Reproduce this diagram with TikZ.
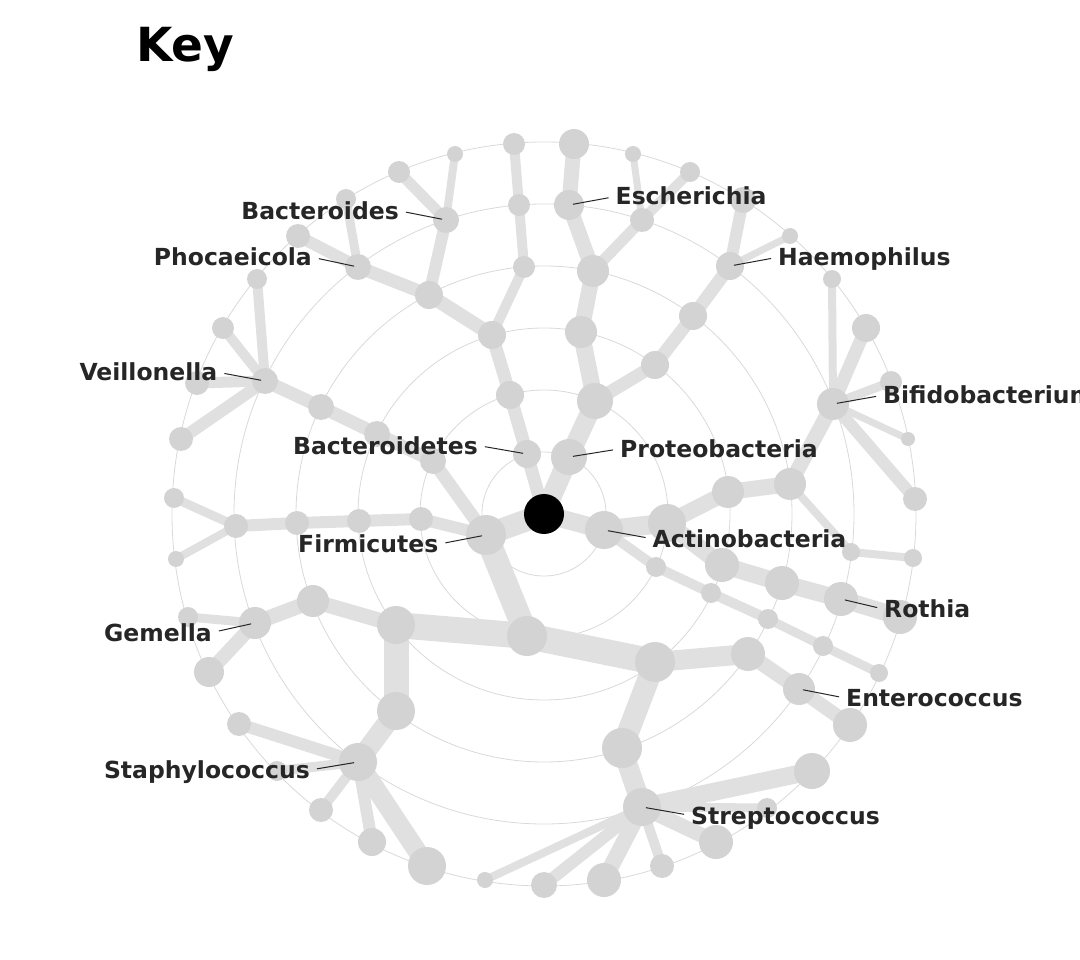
\documentclass[tikz,border=0pt]{standalone}
\usepackage{fontspec}
\setmainfont{DejaVu Sans}
\usetikzlibrary{backgrounds}
\definecolor{taxonfill}{HTML}{D3D3D3}
\definecolor{branchgray}{HTML}{E0E0E0}
\definecolor{ringgray}{HTML}{D9D9D9}
\definecolor{inkgray}{HTML}{262626}
\providecommand*{\ringStep}{}
\renewcommand*{\ringStep}{62}
\tikzset{
  taxon/.style={circle,fill=taxonfill,inner sep=0pt,minimum size=2*#1pt},
  branch/.style={draw=branchgray,line width=#1pt},
  ring/.style={draw=ringgray,line width=0.8pt},
  genus/.style={text=inkgray,font=\bfseries\fontsize{23.5}{28}\selectfont,inner sep=0pt,text height=17pt,text depth=0pt},
  leader/.style={draw=inkgray,line width=1pt,shorten <=7pt,shorten >=4pt},
}
\begin{document}
\begin{tikzpicture}[x=1pt,y=-1pt]
  \useasboundingbox (0,0) rectangle (1080,960);
  \node[font=\bfseries\fontsize{47}{56}\selectfont,anchor=base west,inner sep=0pt] (key) at (136,62) {Key};
  \node[circle,fill=black,inner sep=0pt,minimum size=40pt] (root) at (544,514) {};
  \foreach \name/\x/\y/\r in {bacteroidetes/527/454/14, bact2/510/395/14, bact3/492/335/14,
    bact4a/429/295/14, bact4b/524/267/11, bacteroides/446/220/13, phocaeicola/358/267/13,
    bact5/519/205/11, bact6a/399/172/11, bact6b/455/154/8, bact6c/298/236/12,
    bact6d/346/199/10, bact6e/514/144/11,
    proteobacteria/569/457/18, prot2/595/401/18, prot3a/581/332/16, prot3b/655/365/14,
    prot4a/593/271/16, prot4b/693/316/14, escherichia/569/205/15, prot5/642/220/12,
    haemophilus/730/266/14, prot6a/574/144/15, prot6b/633/154/8, prot6c/690/172/10,
    prot6d/743/200/13, prot6e/790/236/8,
    actinobacteria/604/530/19, act2a/667/523/19, act2b/656/567/10, act3a/728/492/16,
    act3b/722/565/17, act3c/711/593/10, act4a/790/484/16, act4b/782/583/17,
    act4c/768/619/10, bifidobacterium/833/404/16, act5b/851/552/9, rothia/841/599/17,
    act5d/823/646/10, act6a/832/279/9, act6b/866/328/14, act6c/891/382/11,
    act6d/908/439/7, act6e/915/499/12, act6f/913/558/9, act6g/900/617/17, act6h/879/673/9,
    firmicutes/486/535/20, firm2a/433/461/13, firm2b/421/519/12, firm2c/527/636/20,
    firm3a/377/434/13, firm3b/359/521/12, firm3c/396/625/19, firm3d/655/662/20,
    firm4a/321/407/13, firm4b/297/523/12, firm4c/313/601/16, firm4d/396/711/19,
    firm4e/748/654/17, firm4f/622/748/20, veillonella/265/381/13, firm5b/236/526/12,
    gemella/255/623/16, staphylococcus/358/762/19, enterococcus/799/689/16,
    streptococcus/642/807/19, firm6a/257/279/10, firm6b/223/328/11, firm6c/197/383/12,
    firm6d/181/439/12, firm6e/174/498/10, firm6f/176/559/8, firm6g/188/617/10,
    firm6h/209/672/15, firm6i/239/724/12, firm6j/277/771/10, firm6k/321/810/12,
    firm6l/372/842/14, firm6m/427/866/19, firm6n/850/725/17, firm6o/812/771/18,
    firm6p/767/808/10, firm6q/716/842/17, firm6r/662/866/12, firm6s/604/880/17,
    firm6t/544/885/13, firm6u/485/880/8} {
    \node[taxon=\r] (\name) at (\x,\y) {};
  }
  \begin{scope}[on background layer]
    \foreach \i in {1,...,6} {
      \draw[ring] (root.center) circle [radius=\i*\ringStep];
    }
    \foreach \a/\b/\w in {root/bacteroidetes/13, root/proteobacteria/20, root/actinobacteria/18,
      root/firmicutes/22,
      bacteroidetes/bact2/13, bact2/bact3/13, bact3/bact4a/14, bact3/bact4b/10,
      bact4a/bacteroides/12, bact4a/phocaeicola/13, bact4b/bact5/10, bact5/bact6e/10,
      bacteroides/bact6a/11, bacteroides/bact6b/8, phocaeicola/bact6c/12, phocaeicola/bact6d/9,
      proteobacteria/prot2/19, prot2/prot3a/17, prot2/prot3b/13, prot3a/prot4a/16,
      prot4a/escherichia/15, prot4a/prot5/11, escherichia/prot6a/15, prot5/prot6b/7,
      prot5/prot6c/10, prot3b/prot4b/13, prot4b/haemophilus/13, haemophilus/prot6d/12,
      haemophilus/prot6e/7,
      actinobacteria/act2a/19, actinobacteria/act2b/10, act2a/act3a/16, act2a/act3b/17,
      act3a/act4a/16, act4a/bifidobacterium/15, act4a/act5b/8, act5b/act6f/8,
      bifidobacterium/act6a/8, bifidobacterium/act6b/13, bifidobacterium/act6c/9,
      bifidobacterium/act6d/7, bifidobacterium/act6e/12, act3b/act4b/17, act4b/rothia/17,
      rothia/act6g/17, act2b/act3c/10, act3c/act4c/10, act4c/act5d/9, act5d/act6h/9,
      firmicutes/firm2a/13, firmicutes/firm2b/12, firmicutes/firm2c/24, firm2a/firm3a/13,
      firm3a/firm4a/13, firm4a/veillonella/13, veillonella/firm6a/10, veillonella/firm6b/10,
      veillonella/firm6c/11, veillonella/firm6d/12, firm2b/firm3b/12, firm3b/firm4b/12,
      firm4b/firm5b/12, firm5b/firm6e/9, firm5b/firm6f/8, firm2c/firm3c/26, firm2c/firm3d/26,
      firm3c/firm4c/15, firm4c/gemella/15, gemella/firm6g/9, gemella/firm6h/14,
      firm3c/firm4d/25, firm4d/staphylococcus/20, staphylococcus/firm6i/12,
      staphylococcus/firm6j/10, staphylococcus/firm6k/10, staphylococcus/firm6l/12,
      staphylococcus/firm6m/19, firm3d/firm4e/20, firm4e/enterococcus/15,
      enterococcus/firm6n/14, firm3d/firm4f/22, firm4f/streptococcus/20,
      streptococcus/firm6o/18, streptococcus/firm6p/9, streptococcus/firm6q/15,
      streptococcus/firm6r/10, streptococcus/firm6s/16, streptococcus/firm6t/12,
      streptococcus/firm6u/8} {
      \draw[branch=\w] (\a.center) -- (\b.center);
    }
  \end{scope}
  \foreach \name/\text/\x/\y in {bacteroides/Bacteroides/399/219.3, phocaeicola/Phocaeicola/312/265.7,
    veillonella/Veillonella/217.5/380.7, bacteroidetes/Bacteroidetes/478/454,
    firmicutes/Firmicutes/438.5/552.7, gemella/Gemella/212/641,
    staphylococcus/Staphylococcus/310/778.5} {
    \node[genus,anchor=base east] (\name name) at (\x,\y) {\text};
    \draw[leader] (\name name.east) -- (\name.center);
  }
  \foreach \name/\text/\x/\y in {escherichia/Escherichia/615.5/205, haemophilus/Haemophilus/778/265.7,
    bifidobacterium/Bifidobacterium/883/403.7, proteobacteria/Proteobacteria/620/457.3,
    actinobacteria/Actinobacteria/652.5/547.3, rothia/Rothia/884/617.7,
    enterococcus/Enterococcus/846/706.7, streptococcus/Streptococcus/691/824} {
    \node[genus,anchor=base west] (\name name) at (\x,\y) {\text};
    \draw[leader] (\name name.west) -- (\name.center);
  }
\end{tikzpicture}
\end{document}
